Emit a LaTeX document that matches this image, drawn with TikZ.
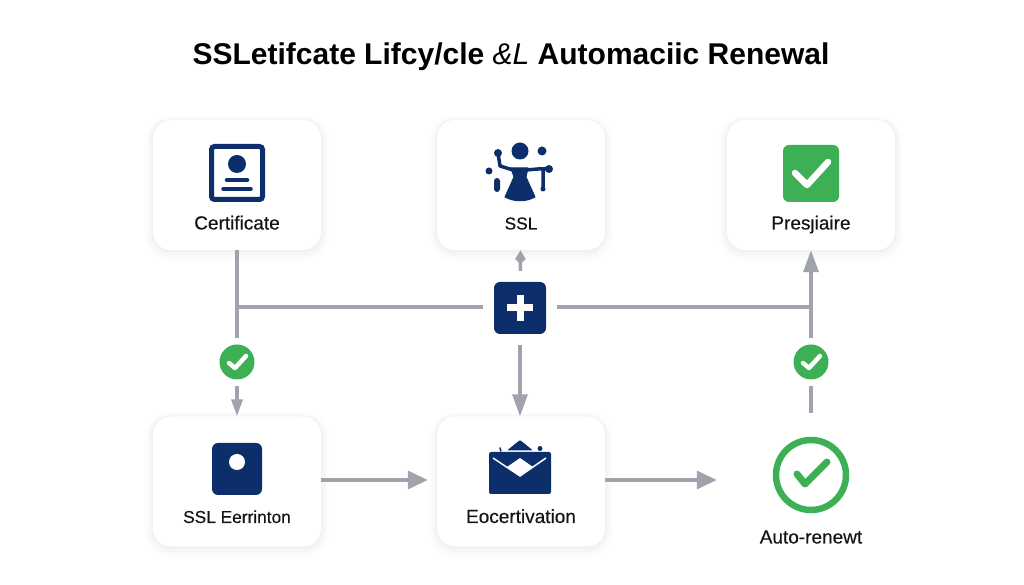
\documentclass[tikz,border=0pt]{standalone}
\usepackage{fontspec}
\setmainfont{Liberation Sans}
\newfontfamily\cardfont[FakeBold=0.35]{Liberation Sans}
\usetikzlibrary{arrows.meta,shapes.geometric}
\definecolor{navy}{HTML}{0C2F6C}
\definecolor{okgreen}{HTML}{3DB055}
\definecolor{linegray}{HTML}{A0A3AB}
\definecolor{inkblack}{HTML}{141414}
\tikzset{
	card/.style={fill=white,rounded corners=18pt,minimum width=168pt,minimum height=130pt,inner sep=0pt,
		preaction={draw=black,opacity=.007,line width=16pt,transform canvas={yshift=-3pt}},
		preaction={draw=black,opacity=.010,line width=11pt,transform canvas={yshift=-3pt}},
		preaction={draw=black,opacity=.014,line width=7pt,transform canvas={yshift=-2pt}},
		preaction={draw=black,opacity=.020,line width=3pt,transform canvas={yshift=-1pt}}},
	cardtext/.style={text=inkblack,font=\cardfont\fontsize{19}{20}\selectfont,inner sep=0pt,text height=13pt,text depth=0pt},
	sslcardtext/.style={cardtext,font=\cardfont\fontsize{17.3}{20}\selectfont},
	checkdot/.style={circle,fill=okgreen,minimum size=35pt,inner sep=0pt,outer sep=6.5pt},
	plusbox/.style={fill=navy,rounded corners=6pt,minimum size=52pt,inner sep=0pt,outer sep=11pt},
	ring/.style={circle,draw=okgreen,line width=6.5pt,minimum size=70pt,inner sep=0pt},
	link/.style={draw=linegray,line width=3.5pt},
	bigtip/.style={link,-{Triangle[length=22pt,width=15pt]}},
	sidetip/.style={link,-{Triangle[length=20pt,width=18pt]}},
	smalltip/.style={link,-{Triangle[length=17pt,width=11pt]}},
	tinytip/.style={link,-{Triangle[reversed,length=5pt,width=10pt,sep=0pt]Triangle[length=9pt,width=10pt]}},
	whitetick/.style={draw=white,line width=4.5pt,line cap=round,line join=round},
}
\begin{document}
\begin{tikzpicture}[x=1pt,y=1pt,node distance=284pt]
	\useasboundingbox (0,0) rectangle (1024,585);

	\node[text=black,font=\bfseries\fontsize{30}{34}\selectfont] (title) at (511,528) {SSLetifcate Lifcy/cle {\mdseries\itshape\&L} Automaciic Renewal};

	\node[card] (cert) at (237,400) {};
	\node[card] (ssl) [right of=cert] {};
	\node[card] (presj) [right of=ssl,node distance=290pt] {};
	\node[card] (sslerr) [below of=cert,node distance=296.5pt] {};
	\node[card] (enc) [right of=sslerr] {};

	\node[cardtext] (certlab) [below of=cert,node distance=38pt] {Certificate};
	\node[sslcardtext] (ssllab) [below of=ssl,node distance=38pt] {SSL};
	\node[cardtext] (presjlab) [below of=presj,node distance=38pt] {Presȷiaire};
	\node[sslcardtext] (sslerrlab) [below of=sslerr,node distance=35pt] {SSL Eerrinton};
	\node[cardtext] (enclab) [below of=enc,node distance=35pt] {Eocertivation};

	\node[plusbox] (plus) at (520,277) {};
	\node[checkdot] (okleft) at (237,223) {};
	\node[checkdot] (okright) at (811,223) {};
	\node[ring] (renew) at (811,110) {};
	\node[cardtext] (renewlab) [below of=renew,node distance=62pt] {Auto-renewt};

	\coordinate (junleft) at (237,278);
	\coordinate (junright) at (811,278);

	\path[link] (cert) -- (okleft);
	\path[smalltip] (okleft) -- (sslerr);
	\path[link] (junleft) -- ([yshift=1pt]plus.west);
	\path[link] ([yshift=1pt]plus.east) -- (junright);
	\path[tinytip] (plus) -- (ssl);
	\path[bigtip] (plus) -- ([xshift=-1pt]enc.north);
	\path[bigtip] (okright) -- (presj);
	\path[link,shorten >=24pt] (okright) -- (renew);
	\path[sidetip,shorten >=9pt] ([yshift=1.5pt]sslerr.east) -- ([yshift=1.5pt]enc.west);
	\path[sidetip,shorten >=56pt] ([yshift=1.5pt]enc.east) -- ([yshift=-5pt]renew.west);

	% icons
	\begin{scope}[shift={(cert.center)}]
		\draw[navy,line width=5pt,rounded corners=3pt] (-25.5,-14.5) rectangle (25.5,38.5);
		\fill[navy] (0,21) circle (9);
		\draw[navy,line width=3.5pt,line cap=round] (-10.5,5) -- (10.5,5) (-14,-4) -- (14,-4);
	\end{scope}

	\begin{scope}[shift={(ssl.center)}]
		\fill[navy] (-1,34) circle (8.5);
		\filldraw[navy,line width=1pt,line join=round] (-10,17) -- (7,17) -- (5,8) -- (14,-12) .. controls (5,-17) and (-7,-17) .. (-16,-12) -- (-7,8) -- cycle;
		\draw[navy,line width=3.5pt,line join=round] (-23,32) -- (-21,19) -- (-8,15) (5,15) -- (17,16) -- (28,16) (22,16) -- (22,-4);
		\fill[navy] (-23,32) circle (4) (21,34) circle (4.5) (-32,14) circle (3.5) (28,16) circle (4) (22,-4) circle (2.5);
		\fill[navy,rounded corners=3pt] (-27,-7) rectangle (-21,7);
	\end{scope}

	\begin{scope}[shift={(presj.center)}]
		\fill[okgreen,rounded corners=6pt] (-28,-17) rectangle (28,40);
		\draw[white,line width=6.5pt,line cap=round,line join=round] (-16,12) -- (-4,0) -- (17,23);
	\end{scope}

	\begin{scope}[shift={(sslerr.center)}]
		\fill[navy,rounded corners=6pt] (-25,-13.5) rectangle (25,38.5);
		\fill[white] (0,19.5) circle (8);
	\end{scope}

	\begin{scope}[shift={(enc.center)}]
		\fill[navy,rounded corners=2pt] (-32,-12.5) rectangle (30,29.5);
		\fill[navy,rounded corners=1pt] (-1,41.5) -- (12,31) -- (-14,31) -- cycle;
		\fill[navy] (19,33) circle (2.5);
		\draw[navy,line width=1.5pt] (-21,34) -- (-20,30);
		\draw[white,line width=1.5pt] (-28,23.5) -- (-1,5.5) -- (25,23.5);
		\fill[white] (-1,23.5) -- (12,14.5) -- (-1,5.5) -- (-14,14.5) -- cycle;
	\end{scope}

	\draw[whitetick] ([shift={(-8,-1)}]okleft.center) -- ([shift={(-2,-6)}]okleft.center) -- ([shift={(9,6)}]okleft.center);
	\draw[whitetick] ([shift={(-8,-1)}]okright.center) -- ([shift={(-2,-6)}]okright.center) -- ([shift={(9,6)}]okright.center);
	\draw[white,line width=7pt] ([xshift=-13pt]plus.center) -- ([xshift=13pt]plus.center) ([yshift=-13pt]plus.center) -- ([yshift=13pt]plus.center);
	\draw[okgreen,line width=7pt,line cap=round,line join=round] ([shift={(-14,1)}]renew.center) -- ([shift={(-6,-9)}]renew.center) -- ([shift={(16,13)}]renew.center);
\end{tikzpicture}
\end{document}
